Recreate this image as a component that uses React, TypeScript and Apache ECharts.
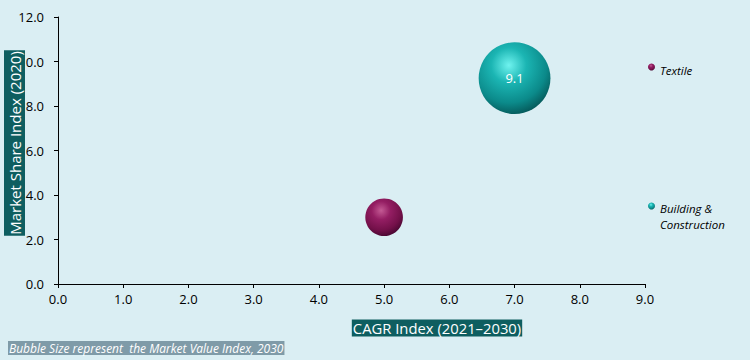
import React, { useEffect, useRef } from "react";
import * as echarts from "echarts";

const categories = ["Building & Construction", "Textile"];
const cagrIndex = [7.0, 5.0];
const marketShareIndex = [9.25, 3.0];
const marketValueIndex = [9.1, 2.5];
const bubbleLabels = ["9.1", ""];
const xTicks = [0, 1, 2, 3, 4, 5, 6, 7, 8, 9];
const yTicks = [0, 2, 4, 6, 8, 10, 12];

const FONT = "'Open Sans', sans-serif";

const gradients = [
  new echarts.graphic.RadialGradient(0.42, 0.32, 0.7, [
    { offset: 0, color: "#6ff3ef" },
    { offset: 0.35, color: "#1bb5b3" },
    { offset: 0.75, color: "#0b8a8a" },
    { offset: 1, color: "#05595a" },
  ]),
  new echarts.graphic.RadialGradient(0.42, 0.32, 0.7, [
    { offset: 0, color: "#c45a94" },
    { offset: 0.35, color: "#941e63" },
    { offset: 0.75, color: "#731049" },
    { offset: 1, color: "#480731" },
  ]),
];
const legendColors = ["#17a9a8", "#8a1858"];

export default function App() {
  const ref = useRef<HTMLDivElement>(null);
  useEffect(() => {
    if (!ref.current) return;
    const chart = echarts.init(ref.current, undefined, { renderer: "svg" });
    const series = categories.map((name, i) => ({
      name,
      type: "scatter",
      color: legendColors[i],
      data: [[cagrIndex[i], marketShareIndex[i], marketValueIndex[i]]],
      symbolSize: (v: number[]) => Math.sqrt(v[2]) * 23.8,
      itemStyle: { color: gradients[i], opacity: 1 },
      label: {
        show: bubbleLabels[i] !== "",
        formatter: () => bubbleLabels[i],
        position: "inside",
        color: "#ffffff",
        fontSize: 13,
        fontFamily: FONT,
      },
      emphasis: { disabled: true },
    }));
    const txt = { fontStyle: "italic", fontSize: 11.5, fontFamily: FONT, color: "#000", lineHeight: 16 };
    const legendText = (h: number) => ({
      ...txt,
      rich: { a: { ...txt }, e: { fontSize: 2, lineHeight: h } },
    });
    const axisLabel = {
      color: "#000",
      fontSize: 13,
      fontFamily: FONT,
      formatter: (v: number) => v.toFixed(1),
    };
    chart.setOption({
      animation: false,
      backgroundColor: "#daeef3",
      grid: { left: 58, right: 105, top: 17, bottom: 76 },
      xAxis: {
        type: "value",
        min: xTicks[0],
        max: xTicks[xTicks.length - 1],
        interval: 1,
        splitLine: { show: false },
        axisLine: { show: true, lineStyle: { color: "#000", width: 1 } },
        axisTick: { show: true, length: 4, lineStyle: { color: "#000" } },
        axisLabel: { ...axisLabel, margin: 8 },
      },
      yAxis: {
        type: "value",
        min: yTicks[0],
        max: yTicks[yTicks.length - 1],
        interval: 2,
        splitLine: { show: false },
        axisLine: { show: true, lineStyle: { color: "#000", width: 1 } },
        axisTick: { show: true, length: 4, lineStyle: { color: "#000" } },
        axisLabel: { ...axisLabel, margin: 14 },
      },
      legend: [
        {
          data: [categories[1]],
          left: 648,
          top: 56,
          padding: 0,
          orient: "vertical",
          icon: "circle",
          itemWidth: 7,
          itemHeight: 7,
          textStyle: legendText(6),
          formatter: (n: string) => "{e| }\n{a|" + n + "}",
          selectedMode: false,
        },
        {
          data: [categories[0]],
          left: 648,
          top: 180,
          padding: 0,
          orient: "vertical",
          icon: "circle",
          itemWidth: 7,
          itemHeight: 7,
          textStyle: legendText(20),
          formatter: (n: string) => {
            const parts = n.split("& ");
            return "{e| }\n{a|" + parts[0] + "&}\n{a|" + parts[1] + "}";
          },
          selectedMode: false,
        },
      ],
      graphic: [
        {
          type: "text",
          x: 14.5,
          y: 143,
          rotation: Math.PI / 2,
          style: {
            text: "Market Share Index (2020)",
            fill: "#ffffff",
            fontSize: 15,
            lineHeight: 19,
            fontFamily: FONT,
            backgroundColor: "#0e5e60",
            padding: [1, 1],
            align: "center",
            verticalAlign: "middle",
          },
          z: 100,
        },
        {
          type: "text",
          x: 437,
          y: 328,
          style: {
            text: "CAGR Index (2021–2030)",
            fill: "#ffffff",
            fontSize: 14.8,
            fontFamily: FONT,
            backgroundColor: "#0e5e60",
            padding: [1, 1],
            align: "center",
            verticalAlign: "middle",
          },
          z: 100,
        },
        {
          type: "text",
          x: 8,
          y: 348,
          style: {
            text: "Bubble Size represent  the Market Value Index, 2030",
            fill: "#ffffff",
            fontSize: 12,
            fontStyle: "italic",
            fontFamily: FONT,
            backgroundColor: "#7f9ba8",
            padding: [1, 1],
            align: "left",
            verticalAlign: "middle",
          },
          z: 100,
        },
      ],
      series,
    });
    return () => chart.dispose();
  }, []);
  return <div ref={ref} style={{ width: 750, height: 360, position: "absolute", left: 0, top: 0 }} />;
}
